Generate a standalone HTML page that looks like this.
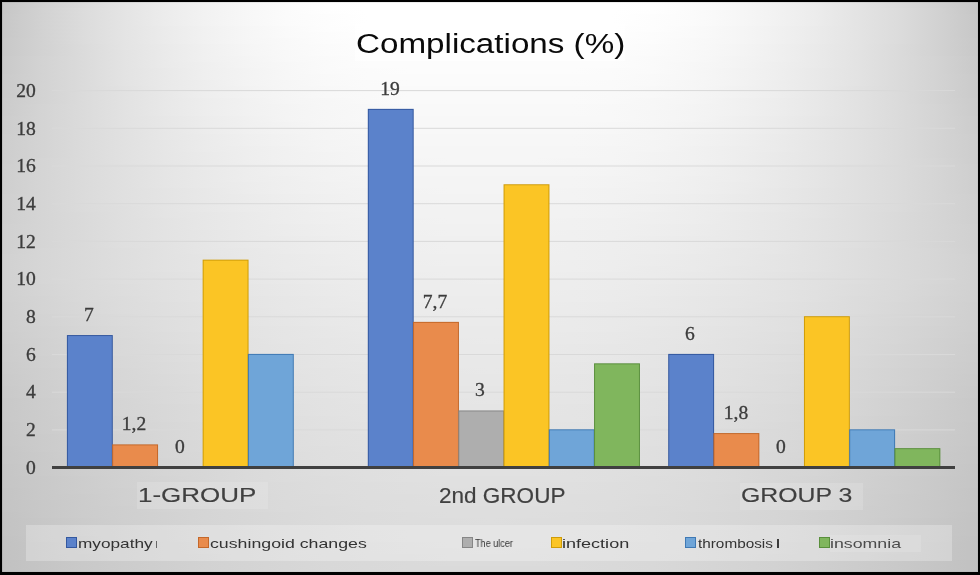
<!DOCTYPE html>
<html><head><meta charset="utf-8"><title>Complications (%)</title>
<style>
html,body{margin:0;padding:0;}
body{width:980px;height:575px;overflow:hidden;background:#000;position:relative;font-family:"Liberation Sans",sans-serif;}
#bg{position:absolute;left:2px;top:2px;width:976px;height:569.5px;overflow:hidden;background:#d8d8d8;}
#bg i{display:block;width:976px;}
#edge{position:absolute;left:2px;top:2px;width:976px;height:569.5px;box-shadow:inset 1px 1px 0 rgba(0,0,0,0.07), inset -1px -1px 0 rgba(0,0,0,0.03);}
.t{position:absolute;white-space:nowrap;line-height:1;transform-origin:0 0;will-change:transform;}
.ser{font-family:"Liberation Serif",serif;color:#3c3c3c;font-size:17.8px;-webkit-text-stroke:0.3px #3c3c3c;}
.patch{position:absolute;}
svg{position:absolute;left:0;top:0;}
</style></head><body>
<div id="bg">
<i style="height:6px;background:linear-gradient(90deg,#c6c6c6,#d1d1d1,#dbdbdb,#e4e4e4,#ececec,#f2f2f2,#f7f7f7,#fbfbfb,#fefefe,#ffffff,#ffffff,#ffffff,#ffffff,#ffffff,#ffffff,#ffffff,#fefefe,#fbfbfb,#f7f7f7,#f2f2f2,#ececec,#e4e4e4,#dbdbdb,#d1d1d1,#c6c6c6)"></i><i style="height:6px;background:linear-gradient(90deg,#c6c6c6,#d2d2d2,#dcdcdc,#e4e4e4,#ececec,#f2f2f2,#f7f7f7,#fbfbfb,#fefefe,#ffffff,#ffffff,#ffffff,#ffffff,#ffffff,#ffffff,#ffffff,#fefefe,#fbfbfb,#f7f7f7,#f2f2f2,#ececec,#e4e4e4,#dcdcdc,#d2d2d2,#c6c6c6)"></i><i style="height:6px;background:linear-gradient(90deg,#c7c7c7,#d2d2d2,#dcdcdc,#e4e4e4,#ececec,#f2f2f2,#f7f7f7,#fbfbfb,#fdfdfd,#ffffff,#ffffff,#ffffff,#ffffff,#ffffff,#ffffff,#ffffff,#fdfdfd,#fbfbfb,#f7f7f7,#f2f2f2,#ececec,#e4e4e4,#dcdcdc,#d2d2d2,#c7c7c7)"></i><i style="height:6px;background:linear-gradient(90deg,#c7c7c7,#d2d2d2,#dcdcdc,#e4e4e4,#ececec,#f2f2f2,#f7f7f7,#fbfbfb,#fdfdfd,#ffffff,#ffffff,#ffffff,#ffffff,#ffffff,#ffffff,#ffffff,#fdfdfd,#fbfbfb,#f7f7f7,#f2f2f2,#ececec,#e4e4e4,#dcdcdc,#d2d2d2,#c7c7c7)"></i><i style="height:6px;background:linear-gradient(90deg,#c7c7c7,#d2d2d2,#dcdcdc,#e4e4e4,#ebebeb,#f1f1f1,#f6f6f6,#fafafa,#fdfdfd,#fefefe,#fefefe,#fefefe,#fefefe,#fefefe,#fefefe,#fefefe,#fdfdfd,#fafafa,#f6f6f6,#f1f1f1,#ebebeb,#e4e4e4,#dcdcdc,#d2d2d2,#c7c7c7)"></i><i style="height:6px;background:linear-gradient(90deg,#c7c7c7,#d2d2d2,#dcdcdc,#e4e4e4,#ebebeb,#f1f1f1,#f6f6f6,#fafafa,#fcfcfc,#fefefe,#fefefe,#fefefe,#fefefe,#fefefe,#fefefe,#fefefe,#fcfcfc,#fafafa,#f6f6f6,#f1f1f1,#ebebeb,#e4e4e4,#dcdcdc,#d2d2d2,#c7c7c7)"></i><i style="height:6px;background:linear-gradient(90deg,#c8c8c8,#d2d2d2,#dcdcdc,#e4e4e4,#ebebeb,#f1f1f1,#f6f6f6,#f9f9f9,#fcfcfc,#fdfdfd,#fefefe,#fefefe,#fefefe,#fefefe,#fefefe,#fdfdfd,#fcfcfc,#f9f9f9,#f6f6f6,#f1f1f1,#ebebeb,#e4e4e4,#dcdcdc,#d2d2d2,#c8c8c8)"></i><i style="height:6px;background:linear-gradient(90deg,#c8c8c8,#d2d2d2,#dbdbdb,#e4e4e4,#eaeaea,#f0f0f0,#f5f5f5,#f9f9f9,#fbfbfb,#fdfdfd,#fdfdfd,#fdfdfd,#fdfdfd,#fdfdfd,#fdfdfd,#fdfdfd,#fbfbfb,#f9f9f9,#f5f5f5,#f0f0f0,#eaeaea,#e4e4e4,#dbdbdb,#d2d2d2,#c8c8c8)"></i><i style="height:6px;background:linear-gradient(90deg,#c8c8c8,#d2d2d2,#dbdbdb,#e3e3e3,#eaeaea,#f0f0f0,#f5f5f5,#f8f8f8,#fbfbfb,#fcfcfc,#fdfdfd,#fdfdfd,#fdfdfd,#fdfdfd,#fdfdfd,#fcfcfc,#fbfbfb,#f8f8f8,#f5f5f5,#f0f0f0,#eaeaea,#e3e3e3,#dbdbdb,#d2d2d2,#c8c8c8)"></i><i style="height:6px;background:linear-gradient(90deg,#c9c9c9,#d3d3d3,#dbdbdb,#e3e3e3,#eaeaea,#f0f0f0,#f4f4f4,#f8f8f8,#fafafa,#fcfcfc,#fcfcfc,#fcfcfc,#fcfcfc,#fcfcfc,#fcfcfc,#fcfcfc,#fafafa,#f8f8f8,#f4f4f4,#f0f0f0,#eaeaea,#e3e3e3,#dbdbdb,#d3d3d3,#c9c9c9)"></i><i style="height:6px;background:linear-gradient(90deg,#c9c9c9,#d3d3d3,#dbdbdb,#e3e3e3,#eaeaea,#efefef,#f4f4f4,#f7f7f7,#fafafa,#fcfcfc,#fcfcfc,#fcfcfc,#fcfcfc,#fcfcfc,#fcfcfc,#fcfcfc,#fafafa,#f7f7f7,#f4f4f4,#efefef,#eaeaea,#e3e3e3,#dbdbdb,#d3d3d3,#c9c9c9)"></i><i style="height:6px;background:linear-gradient(90deg,#c9c9c9,#d3d3d3,#dbdbdb,#e3e3e3,#e9e9e9,#efefef,#f3f3f3,#f7f7f7,#fafafa,#fbfbfb,#fcfcfc,#fcfcfc,#fcfcfc,#fcfcfc,#fcfcfc,#fbfbfb,#fafafa,#f7f7f7,#f3f3f3,#efefef,#e9e9e9,#e3e3e3,#dbdbdb,#d3d3d3,#c9c9c9)"></i><i style="height:6px;background:linear-gradient(90deg,#cacaca,#d3d3d3,#dbdbdb,#e3e3e3,#e9e9e9,#efefef,#f3f3f3,#f7f7f7,#f9f9f9,#fbfbfb,#fbfbfb,#fbfbfb,#fbfbfb,#fbfbfb,#fbfbfb,#fbfbfb,#f9f9f9,#f7f7f7,#f3f3f3,#efefef,#e9e9e9,#e3e3e3,#dbdbdb,#d3d3d3,#cacaca)"></i><i style="height:6px;background:linear-gradient(90deg,#cacaca,#d3d3d3,#dbdbdb,#e3e3e3,#e9e9e9,#eeeeee,#f3f3f3,#f6f6f6,#f9f9f9,#fafafa,#fbfbfb,#fbfbfb,#fbfbfb,#fbfbfb,#fbfbfb,#fafafa,#f9f9f9,#f6f6f6,#f3f3f3,#eeeeee,#e9e9e9,#e3e3e3,#dbdbdb,#d3d3d3,#cacaca)"></i><i style="height:6px;background:linear-gradient(90deg,#cacaca,#d3d3d3,#dbdbdb,#e2e2e2,#e9e9e9,#eeeeee,#f2f2f2,#f6f6f6,#f8f8f8,#fafafa,#fafafa,#fafafa,#fafafa,#fafafa,#fafafa,#fafafa,#f8f8f8,#f6f6f6,#f2f2f2,#eeeeee,#e9e9e9,#e2e2e2,#dbdbdb,#d3d3d3,#cacaca)"></i><i style="height:6px;background:linear-gradient(90deg,#cacaca,#d3d3d3,#dbdbdb,#e2e2e2,#e8e8e8,#eeeeee,#f2f2f2,#f5f5f5,#f8f8f8,#f9f9f9,#fafafa,#fafafa,#fafafa,#fafafa,#fafafa,#f9f9f9,#f8f8f8,#f5f5f5,#f2f2f2,#eeeeee,#e8e8e8,#e2e2e2,#dbdbdb,#d3d3d3,#cacaca)"></i><i style="height:6px;background:linear-gradient(90deg,#cbcbcb,#d3d3d3,#dbdbdb,#e2e2e2,#e8e8e8,#ededed,#f1f1f1,#f5f5f5,#f7f7f7,#f9f9f9,#fafafa,#fafafa,#fafafa,#fafafa,#fafafa,#f9f9f9,#f7f7f7,#f5f5f5,#f1f1f1,#ededed,#e8e8e8,#e2e2e2,#dbdbdb,#d3d3d3,#cbcbcb)"></i><i style="height:6px;background:linear-gradient(90deg,#cbcbcb,#d4d4d4,#dbdbdb,#e2e2e2,#e8e8e8,#ededed,#f1f1f1,#f4f4f4,#f7f7f7,#f8f8f8,#f9f9f9,#f9f9f9,#f9f9f9,#f9f9f9,#f9f9f9,#f8f8f8,#f7f7f7,#f4f4f4,#f1f1f1,#ededed,#e8e8e8,#e2e2e2,#dbdbdb,#d4d4d4,#cbcbcb)"></i><i style="height:6px;background:linear-gradient(90deg,#cbcbcb,#d4d4d4,#dbdbdb,#e2e2e2,#e8e8e8,#ededed,#f1f1f1,#f4f4f4,#f6f6f6,#f8f8f8,#f9f9f9,#f9f9f9,#f9f9f9,#f9f9f9,#f9f9f9,#f8f8f8,#f6f6f6,#f4f4f4,#f1f1f1,#ededed,#e8e8e8,#e2e2e2,#dbdbdb,#d4d4d4,#cbcbcb)"></i><i style="height:6px;background:linear-gradient(90deg,#cccccc,#d4d4d4,#dbdbdb,#e2e2e2,#e7e7e7,#ececec,#f0f0f0,#f4f4f4,#f6f6f6,#f8f8f8,#f8f8f8,#f8f8f8,#f8f8f8,#f8f8f8,#f8f8f8,#f8f8f8,#f6f6f6,#f4f4f4,#f0f0f0,#ececec,#e7e7e7,#e2e2e2,#dbdbdb,#d4d4d4,#cccccc)"></i><i style="height:6px;background:linear-gradient(90deg,#cccccc,#d4d4d4,#dbdbdb,#e2e2e2,#e7e7e7,#ececec,#f0f0f0,#f3f3f3,#f6f6f6,#f7f7f7,#f8f8f8,#f8f8f8,#f8f8f8,#f8f8f8,#f8f8f8,#f7f7f7,#f6f6f6,#f3f3f3,#f0f0f0,#ececec,#e7e7e7,#e2e2e2,#dbdbdb,#d4d4d4,#cccccc)"></i><i style="height:6px;background:linear-gradient(90deg,#cccccc,#d4d4d4,#dbdbdb,#e1e1e1,#e7e7e7,#ececec,#f0f0f0,#f3f3f3,#f5f5f5,#f7f7f7,#f8f8f8,#f8f8f8,#f8f8f8,#f8f8f8,#f8f8f8,#f7f7f7,#f5f5f5,#f3f3f3,#f0f0f0,#ececec,#e7e7e7,#e1e1e1,#dbdbdb,#d4d4d4,#cccccc)"></i><i style="height:6px;background:linear-gradient(90deg,#cdcdcd,#d4d4d4,#dbdbdb,#e1e1e1,#e7e7e7,#ebebeb,#efefef,#f2f2f2,#f5f5f5,#f6f6f6,#f7f7f7,#f7f7f7,#f7f7f7,#f7f7f7,#f7f7f7,#f6f6f6,#f5f5f5,#f2f2f2,#efefef,#ebebeb,#e7e7e7,#e1e1e1,#dbdbdb,#d4d4d4,#cdcdcd)"></i><i style="height:6px;background:linear-gradient(90deg,#cdcdcd,#d4d4d4,#dbdbdb,#e1e1e1,#e6e6e6,#ebebeb,#efefef,#f2f2f2,#f4f4f4,#f6f6f6,#f7f7f7,#f7f7f7,#f7f7f7,#f7f7f7,#f7f7f7,#f6f6f6,#f4f4f4,#f2f2f2,#efefef,#ebebeb,#e6e6e6,#e1e1e1,#dbdbdb,#d4d4d4,#cdcdcd)"></i><i style="height:6px;background:linear-gradient(90deg,#cdcdcd,#d4d4d4,#dbdbdb,#e1e1e1,#e6e6e6,#ebebeb,#eeeeee,#f1f1f1,#f4f4f4,#f5f5f5,#f6f6f6,#f6f6f6,#f6f6f6,#f6f6f6,#f6f6f6,#f5f5f5,#f4f4f4,#f1f1f1,#eeeeee,#ebebeb,#e6e6e6,#e1e1e1,#dbdbdb,#d4d4d4,#cdcdcd)"></i><i style="height:6px;background:linear-gradient(90deg,#cdcdcd,#d4d4d4,#dbdbdb,#e1e1e1,#e6e6e6,#eaeaea,#eeeeee,#f1f1f1,#f3f3f3,#f5f5f5,#f6f6f6,#f6f6f6,#f6f6f6,#f6f6f6,#f6f6f6,#f5f5f5,#f3f3f3,#f1f1f1,#eeeeee,#eaeaea,#e6e6e6,#e1e1e1,#dbdbdb,#d4d4d4,#cdcdcd)"></i><i style="height:6px;background:linear-gradient(90deg,#cdcdcd,#d5d5d5,#dbdbdb,#e1e1e1,#e6e6e6,#eaeaea,#eeeeee,#f1f1f1,#f3f3f3,#f5f5f5,#f5f5f5,#f6f6f6,#f6f6f6,#f6f6f6,#f5f5f5,#f5f5f5,#f3f3f3,#f1f1f1,#eeeeee,#eaeaea,#e6e6e6,#e1e1e1,#dbdbdb,#d5d5d5,#cdcdcd)"></i><i style="height:6px;background:linear-gradient(90deg,#cecece,#d5d5d5,#dbdbdb,#e0e0e0,#e5e5e5,#eaeaea,#ededed,#f0f0f0,#f2f2f2,#f4f4f4,#f5f5f5,#f5f5f5,#f5f5f5,#f5f5f5,#f5f5f5,#f4f4f4,#f2f2f2,#f0f0f0,#ededed,#eaeaea,#e5e5e5,#e0e0e0,#dbdbdb,#d5d5d5,#cecece)"></i><i style="height:6px;background:linear-gradient(90deg,#cecece,#d5d5d5,#dbdbdb,#e0e0e0,#e5e5e5,#e9e9e9,#ededed,#f0f0f0,#f2f2f2,#f4f4f4,#f5f5f5,#f5f5f5,#f5f5f5,#f5f5f5,#f5f5f5,#f4f4f4,#f2f2f2,#f0f0f0,#ededed,#e9e9e9,#e5e5e5,#e0e0e0,#dbdbdb,#d5d5d5,#cecece)"></i><i style="height:6px;background:linear-gradient(90deg,#cecece,#d5d5d5,#dbdbdb,#e0e0e0,#e5e5e5,#e9e9e9,#ededed,#efefef,#f2f2f2,#f3f3f3,#f4f4f4,#f4f4f4,#f4f4f4,#f4f4f4,#f4f4f4,#f3f3f3,#f2f2f2,#efefef,#ededed,#e9e9e9,#e5e5e5,#e0e0e0,#dbdbdb,#d5d5d5,#cecece)"></i><i style="height:6px;background:linear-gradient(90deg,#cecece,#d5d5d5,#dbdbdb,#e0e0e0,#e5e5e5,#e9e9e9,#ececec,#efefef,#f1f1f1,#f3f3f3,#f4f4f4,#f4f4f4,#f4f4f4,#f4f4f4,#f4f4f4,#f3f3f3,#f1f1f1,#efefef,#ececec,#e9e9e9,#e5e5e5,#e0e0e0,#dbdbdb,#d5d5d5,#cecece)"></i><i style="height:6px;background:linear-gradient(90deg,#cecece,#d5d5d5,#dbdbdb,#e0e0e0,#e4e4e4,#e8e8e8,#ececec,#efefef,#f1f1f1,#f2f2f2,#f3f3f3,#f4f4f4,#f4f4f4,#f4f4f4,#f3f3f3,#f2f2f2,#f1f1f1,#efefef,#ececec,#e8e8e8,#e4e4e4,#e0e0e0,#dbdbdb,#d5d5d5,#cecece)"></i><i style="height:6px;background:linear-gradient(90deg,#cfcfcf,#d5d5d5,#dbdbdb,#e0e0e0,#e4e4e4,#e8e8e8,#ebebeb,#eeeeee,#f0f0f0,#f2f2f2,#f3f3f3,#f3f3f3,#f3f3f3,#f3f3f3,#f3f3f3,#f2f2f2,#f0f0f0,#eeeeee,#ebebeb,#e8e8e8,#e4e4e4,#e0e0e0,#dbdbdb,#d5d5d5,#cfcfcf)"></i><i style="height:6px;background:linear-gradient(90deg,#cfcfcf,#d5d5d5,#dbdbdb,#e0e0e0,#e4e4e4,#e8e8e8,#ebebeb,#eeeeee,#f0f0f0,#f1f1f1,#f2f2f2,#f3f3f3,#f3f3f3,#f3f3f3,#f2f2f2,#f1f1f1,#f0f0f0,#eeeeee,#ebebeb,#e8e8e8,#e4e4e4,#e0e0e0,#dbdbdb,#d5d5d5,#cfcfcf)"></i><i style="height:6px;background:linear-gradient(90deg,#cfcfcf,#d5d5d5,#dbdbdb,#dfdfdf,#e4e4e4,#e8e8e8,#ebebeb,#ededed,#f0f0f0,#f1f1f1,#f2f2f2,#f2f2f2,#f2f2f2,#f2f2f2,#f2f2f2,#f1f1f1,#f0f0f0,#ededed,#ebebeb,#e8e8e8,#e4e4e4,#dfdfdf,#dbdbdb,#d5d5d5,#cfcfcf)"></i><i style="height:6px;background:linear-gradient(90deg,#cfcfcf,#d5d5d5,#dadada,#dfdfdf,#e4e4e4,#e7e7e7,#eaeaea,#ededed,#efefef,#f1f1f1,#f2f2f2,#f2f2f2,#f2f2f2,#f2f2f2,#f2f2f2,#f1f1f1,#efefef,#ededed,#eaeaea,#e7e7e7,#e4e4e4,#dfdfdf,#dadada,#d5d5d5,#cfcfcf)"></i><i style="height:6px;background:linear-gradient(90deg,#cfcfcf,#d5d5d5,#dadada,#dfdfdf,#e3e3e3,#e7e7e7,#eaeaea,#ededed,#efefef,#f0f0f0,#f1f1f1,#f2f2f2,#f2f2f2,#f2f2f2,#f1f1f1,#f0f0f0,#efefef,#ededed,#eaeaea,#e7e7e7,#e3e3e3,#dfdfdf,#dadada,#d5d5d5,#cfcfcf)"></i><i style="height:6px;background:linear-gradient(90deg,#d0d0d0,#d5d5d5,#dadada,#dfdfdf,#e3e3e3,#e7e7e7,#eaeaea,#ececec,#eeeeee,#f0f0f0,#f1f1f1,#f1f1f1,#f1f1f1,#f1f1f1,#f1f1f1,#f0f0f0,#eeeeee,#ececec,#eaeaea,#e7e7e7,#e3e3e3,#dfdfdf,#dadada,#d5d5d5,#d0d0d0)"></i><i style="height:6px;background:linear-gradient(90deg,#d0d0d0,#d5d5d5,#dadada,#dfdfdf,#e3e3e3,#e6e6e6,#e9e9e9,#ececec,#eeeeee,#efefef,#f0f0f0,#f1f1f1,#f1f1f1,#f1f1f1,#f0f0f0,#efefef,#eeeeee,#ececec,#e9e9e9,#e6e6e6,#e3e3e3,#dfdfdf,#dadada,#d5d5d5,#d0d0d0)"></i><i style="height:6px;background:linear-gradient(90deg,#d0d0d0,#d5d5d5,#dadada,#dfdfdf,#e3e3e3,#e6e6e6,#e9e9e9,#ebebeb,#ededed,#efefef,#f0f0f0,#f0f0f0,#f0f0f0,#f0f0f0,#f0f0f0,#efefef,#ededed,#ebebeb,#e9e9e9,#e6e6e6,#e3e3e3,#dfdfdf,#dadada,#d5d5d5,#d0d0d0)"></i><i style="height:6px;background:linear-gradient(90deg,#d0d0d0,#d5d5d5,#dadada,#dfdfdf,#e2e2e2,#e6e6e6,#e9e9e9,#ebebeb,#ededed,#eeeeee,#efefef,#f0f0f0,#f0f0f0,#f0f0f0,#efefef,#eeeeee,#ededed,#ebebeb,#e9e9e9,#e6e6e6,#e2e2e2,#dfdfdf,#dadada,#d5d5d5,#d0d0d0)"></i><i style="height:6px;background:linear-gradient(90deg,#d0d0d0,#d6d6d6,#dadada,#dedede,#e2e2e2,#e6e6e6,#e8e8e8,#ebebeb,#ededed,#eeeeee,#efefef,#f0f0f0,#f0f0f0,#f0f0f0,#efefef,#eeeeee,#ededed,#ebebeb,#e8e8e8,#e6e6e6,#e2e2e2,#dedede,#dadada,#d6d6d6,#d0d0d0)"></i><i style="height:6px;background:linear-gradient(90deg,#d1d1d1,#d6d6d6,#dadada,#dedede,#e2e2e2,#e5e5e5,#e8e8e8,#eaeaea,#ececec,#eeeeee,#efefef,#efefef,#efefef,#efefef,#efefef,#eeeeee,#ececec,#eaeaea,#e8e8e8,#e5e5e5,#e2e2e2,#dedede,#dadada,#d6d6d6,#d1d1d1)"></i><i style="height:6px;background:linear-gradient(90deg,#d1d1d1,#d6d6d6,#dadada,#dedede,#e2e2e2,#e5e5e5,#e8e8e8,#eaeaea,#ececec,#ededed,#eeeeee,#efefef,#efefef,#efefef,#eeeeee,#ededed,#ececec,#eaeaea,#e8e8e8,#e5e5e5,#e2e2e2,#dedede,#dadada,#d6d6d6,#d1d1d1)"></i><i style="height:6px;background:linear-gradient(90deg,#d1d1d1,#d6d6d6,#dadada,#dedede,#e2e2e2,#e5e5e5,#e7e7e7,#eaeaea,#ebebeb,#ededed,#eeeeee,#eeeeee,#eeeeee,#eeeeee,#eeeeee,#ededed,#ebebeb,#eaeaea,#e7e7e7,#e5e5e5,#e2e2e2,#dedede,#dadada,#d6d6d6,#d1d1d1)"></i><i style="height:6px;background:linear-gradient(90deg,#d1d1d1,#d6d6d6,#dadada,#dedede,#e1e1e1,#e4e4e4,#e7e7e7,#e9e9e9,#ebebeb,#ececec,#ededed,#eeeeee,#eeeeee,#eeeeee,#ededed,#ececec,#ebebeb,#e9e9e9,#e7e7e7,#e4e4e4,#e1e1e1,#dedede,#dadada,#d6d6d6,#d1d1d1)"></i><i style="height:6px;background:linear-gradient(90deg,#d1d1d1,#d6d6d6,#dadada,#dedede,#e1e1e1,#e4e4e4,#e7e7e7,#e9e9e9,#ebebeb,#ececec,#ededed,#ededed,#eeeeee,#ededed,#ededed,#ececec,#ebebeb,#e9e9e9,#e7e7e7,#e4e4e4,#e1e1e1,#dedede,#dadada,#d6d6d6,#d1d1d1)"></i><i style="height:6px;background:linear-gradient(90deg,#d1d1d1,#d5d5d5,#dadada,#dddddd,#e1e1e1,#e4e4e4,#e6e6e6,#e8e8e8,#eaeaea,#ececec,#ededed,#ededed,#ededed,#ededed,#ededed,#ececec,#eaeaea,#e8e8e8,#e6e6e6,#e4e4e4,#e1e1e1,#dddddd,#dadada,#d5d5d5,#d1d1d1)"></i><i style="height:6px;background:linear-gradient(90deg,#d0d0d0,#d5d5d5,#d9d9d9,#dddddd,#e0e0e0,#e3e3e3,#e6e6e6,#e8e8e8,#eaeaea,#ebebeb,#ececec,#ededed,#ededed,#ededed,#ececec,#ebebeb,#eaeaea,#e8e8e8,#e6e6e6,#e3e3e3,#e0e0e0,#dddddd,#d9d9d9,#d5d5d5,#d0d0d0)"></i><i style="height:6px;background:linear-gradient(90deg,#d0d0d0,#d4d4d4,#d9d9d9,#dcdcdc,#e0e0e0,#e3e3e3,#e5e5e5,#e7e7e7,#e9e9e9,#ebebeb,#ececec,#ececec,#ececec,#ececec,#ececec,#ebebeb,#e9e9e9,#e7e7e7,#e5e5e5,#e3e3e3,#e0e0e0,#dcdcdc,#d9d9d9,#d4d4d4,#d0d0d0)"></i><i style="height:6px;background:linear-gradient(90deg,#cfcfcf,#d4d4d4,#d8d8d8,#dcdcdc,#dfdfdf,#e2e2e2,#e5e5e5,#e7e7e7,#e9e9e9,#eaeaea,#ebebeb,#ececec,#ececec,#ececec,#ebebeb,#eaeaea,#e9e9e9,#e7e7e7,#e5e5e5,#e2e2e2,#dfdfdf,#dcdcdc,#d8d8d8,#d4d4d4,#cfcfcf)"></i><i style="height:6px;background:linear-gradient(90deg,#cfcfcf,#d4d4d4,#d8d8d8,#dcdcdc,#dfdfdf,#e2e2e2,#e4e4e4,#e7e7e7,#e8e8e8,#eaeaea,#ebebeb,#ebebeb,#ececec,#ebebeb,#ebebeb,#eaeaea,#e8e8e8,#e7e7e7,#e4e4e4,#e2e2e2,#dfdfdf,#dcdcdc,#d8d8d8,#d4d4d4,#cfcfcf)"></i><i style="height:6px;background:linear-gradient(90deg,#cfcfcf,#d3d3d3,#d7d7d7,#dbdbdb,#dfdfdf,#e1e1e1,#e4e4e4,#e6e6e6,#e8e8e8,#e9e9e9,#eaeaea,#ebebeb,#ebebeb,#ebebeb,#eaeaea,#e9e9e9,#e8e8e8,#e6e6e6,#e4e4e4,#e1e1e1,#dfdfdf,#dbdbdb,#d7d7d7,#d3d3d3,#cfcfcf)"></i><i style="height:6px;background:linear-gradient(90deg,#cecece,#d3d3d3,#d7d7d7,#dbdbdb,#dedede,#e1e1e1,#e4e4e4,#e6e6e6,#e8e8e8,#e9e9e9,#eaeaea,#ebebeb,#ebebeb,#ebebeb,#eaeaea,#e9e9e9,#e8e8e8,#e6e6e6,#e4e4e4,#e1e1e1,#dedede,#dbdbdb,#d7d7d7,#d3d3d3,#cecece)"></i><i style="height:6px;background:linear-gradient(90deg,#cecece,#d2d2d2,#d6d6d6,#dadada,#dedede,#e1e1e1,#e3e3e3,#e5e5e5,#e7e7e7,#e9e9e9,#eaeaea,#eaeaea,#eaeaea,#eaeaea,#eaeaea,#e9e9e9,#e7e7e7,#e5e5e5,#e3e3e3,#e1e1e1,#dedede,#dadada,#d6d6d6,#d2d2d2,#cecece)"></i><i style="height:6px;background:linear-gradient(90deg,#cdcdcd,#d2d2d2,#d6d6d6,#dadada,#dddddd,#e0e0e0,#e3e3e3,#e5e5e5,#e7e7e7,#e8e8e8,#e9e9e9,#eaeaea,#eaeaea,#eaeaea,#e9e9e9,#e8e8e8,#e7e7e7,#e5e5e5,#e3e3e3,#e0e0e0,#dddddd,#dadada,#d6d6d6,#d2d2d2,#cdcdcd)"></i><i style="height:6px;background:linear-gradient(90deg,#cdcdcd,#d1d1d1,#d6d6d6,#d9d9d9,#dddddd,#e0e0e0,#e2e2e2,#e5e5e5,#e6e6e6,#e8e8e8,#e9e9e9,#e9e9e9,#eaeaea,#e9e9e9,#e9e9e9,#e8e8e8,#e6e6e6,#e5e5e5,#e2e2e2,#e0e0e0,#dddddd,#d9d9d9,#d6d6d6,#d1d1d1,#cdcdcd)"></i><i style="height:6px;background:linear-gradient(90deg,#cccccc,#d1d1d1,#d5d5d5,#d9d9d9,#dcdcdc,#dfdfdf,#e2e2e2,#e4e4e4,#e6e6e6,#e7e7e7,#e8e8e8,#e9e9e9,#e9e9e9,#e9e9e9,#e8e8e8,#e7e7e7,#e6e6e6,#e4e4e4,#e2e2e2,#dfdfdf,#dcdcdc,#d9d9d9,#d5d5d5,#d1d1d1,#cccccc)"></i><i style="height:6px;background:linear-gradient(90deg,#cccccc,#d1d1d1,#d5d5d5,#d9d9d9,#dcdcdc,#dfdfdf,#e2e2e2,#e4e4e4,#e6e6e6,#e7e7e7,#e8e8e8,#e9e9e9,#e9e9e9,#e9e9e9,#e8e8e8,#e7e7e7,#e6e6e6,#e4e4e4,#e2e2e2,#dfdfdf,#dcdcdc,#d9d9d9,#d5d5d5,#d1d1d1,#cccccc)"></i><i style="height:6px;background:linear-gradient(90deg,#cccccc,#d0d0d0,#d4d4d4,#d8d8d8,#dcdcdc,#dfdfdf,#e1e1e1,#e3e3e3,#e5e5e5,#e7e7e7,#e8e8e8,#e8e8e8,#e8e8e8,#e8e8e8,#e8e8e8,#e7e7e7,#e5e5e5,#e3e3e3,#e1e1e1,#dfdfdf,#dcdcdc,#d8d8d8,#d4d4d4,#d0d0d0,#cccccc)"></i><i style="height:6px;background:linear-gradient(90deg,#cbcbcb,#d0d0d0,#d4d4d4,#d8d8d8,#dbdbdb,#dedede,#e1e1e1,#e3e3e3,#e5e5e5,#e6e6e6,#e7e7e7,#e8e8e8,#e8e8e8,#e8e8e8,#e7e7e7,#e6e6e6,#e5e5e5,#e3e3e3,#e1e1e1,#dedede,#dbdbdb,#d8d8d8,#d4d4d4,#d0d0d0,#cbcbcb)"></i><i style="height:6px;background:linear-gradient(90deg,#cbcbcb,#cfcfcf,#d3d3d3,#d7d7d7,#dbdbdb,#dedede,#e0e0e0,#e3e3e3,#e4e4e4,#e6e6e6,#e7e7e7,#e7e7e7,#e8e8e8,#e7e7e7,#e7e7e7,#e6e6e6,#e4e4e4,#e3e3e3,#e0e0e0,#dedede,#dbdbdb,#d7d7d7,#d3d3d3,#cfcfcf,#cbcbcb)"></i><i style="height:6px;background:linear-gradient(90deg,#cacaca,#cfcfcf,#d3d3d3,#d7d7d7,#dadada,#dddddd,#e0e0e0,#e2e2e2,#e4e4e4,#e5e5e5,#e6e6e6,#e7e7e7,#e7e7e7,#e7e7e7,#e6e6e6,#e5e5e5,#e4e4e4,#e2e2e2,#e0e0e0,#dddddd,#dadada,#d7d7d7,#d3d3d3,#cfcfcf,#cacaca)"></i><i style="height:6px;background:linear-gradient(90deg,#cacaca,#cecece,#d3d3d3,#d6d6d6,#dadada,#dddddd,#e0e0e0,#e2e2e2,#e4e4e4,#e5e5e5,#e6e6e6,#e7e7e7,#e7e7e7,#e7e7e7,#e6e6e6,#e5e5e5,#e4e4e4,#e2e2e2,#e0e0e0,#dddddd,#dadada,#d6d6d6,#d3d3d3,#cecece,#cacaca)"></i><i style="height:6px;background:linear-gradient(90deg,#c9c9c9,#cecece,#d2d2d2,#d6d6d6,#d9d9d9,#dddddd,#dfdfdf,#e1e1e1,#e3e3e3,#e5e5e5,#e6e6e6,#e6e6e6,#e6e6e6,#e6e6e6,#e6e6e6,#e5e5e5,#e3e3e3,#e1e1e1,#dfdfdf,#dddddd,#d9d9d9,#d6d6d6,#d2d2d2,#cecece,#c9c9c9)"></i><i style="height:6px;background:linear-gradient(90deg,#c9c9c9,#cecece,#d2d2d2,#d6d6d6,#d9d9d9,#dcdcdc,#dfdfdf,#e1e1e1,#e3e3e3,#e4e4e4,#e5e5e5,#e6e6e6,#e6e6e6,#e6e6e6,#e5e5e5,#e4e4e4,#e3e3e3,#e1e1e1,#dfdfdf,#dcdcdc,#d9d9d9,#d6d6d6,#d2d2d2,#cecece,#c9c9c9)"></i><i style="height:6px;background:linear-gradient(90deg,#c8c8c8,#cdcdcd,#d1d1d1,#d5d5d5,#d9d9d9,#dcdcdc,#dedede,#e1e1e1,#e2e2e2,#e4e4e4,#e5e5e5,#e5e5e5,#e6e6e6,#e5e5e5,#e5e5e5,#e4e4e4,#e2e2e2,#e1e1e1,#dedede,#dcdcdc,#d9d9d9,#d5d5d5,#d1d1d1,#cdcdcd,#c8c8c8)"></i><i style="height:6px;background:linear-gradient(90deg,#c8c8c8,#cdcdcd,#d1d1d1,#d5d5d5,#d8d8d8,#dbdbdb,#dedede,#e0e0e0,#e2e2e2,#e3e3e3,#e4e4e4,#e5e5e5,#e5e5e5,#e5e5e5,#e4e4e4,#e3e3e3,#e2e2e2,#e0e0e0,#dedede,#dbdbdb,#d8d8d8,#d5d5d5,#d1d1d1,#cdcdcd,#c8c8c8)"></i><i style="height:6px;background:linear-gradient(90deg,#c8c8c8,#cccccc,#d1d1d1,#d5d5d5,#d8d8d8,#dbdbdb,#dedede,#e0e0e0,#e2e2e2,#e3e3e3,#e4e4e4,#e5e5e5,#e5e5e5,#e5e5e5,#e4e4e4,#e3e3e3,#e2e2e2,#e0e0e0,#dedede,#dbdbdb,#d8d8d8,#d5d5d5,#d1d1d1,#cccccc,#c8c8c8)"></i><i style="height:6px;background:linear-gradient(90deg,#c8c8c8,#cccccc,#d0d0d0,#d4d4d4,#d8d8d8,#dbdbdb,#dddddd,#dfdfdf,#e1e1e1,#e3e3e3,#e4e4e4,#e4e4e4,#e4e4e4,#e4e4e4,#e4e4e4,#e3e3e3,#e1e1e1,#dfdfdf,#dddddd,#dbdbdb,#d8d8d8,#d4d4d4,#d0d0d0,#cccccc,#c8c8c8)"></i><i style="height:6px;background:linear-gradient(90deg,#c7c7c7,#cccccc,#d0d0d0,#d4d4d4,#d7d7d7,#dadada,#dddddd,#dfdfdf,#e1e1e1,#e2e2e2,#e3e3e3,#e4e4e4,#e4e4e4,#e4e4e4,#e3e3e3,#e2e2e2,#e1e1e1,#dfdfdf,#dddddd,#dadada,#d7d7d7,#d4d4d4,#d0d0d0,#cccccc,#c7c7c7)"></i><i style="height:6px;background:linear-gradient(90deg,#c7c7c7,#cccccc,#d0d0d0,#d4d4d4,#d7d7d7,#dadada,#dcdcdc,#dfdfdf,#e0e0e0,#e2e2e2,#e3e3e3,#e3e3e3,#e4e4e4,#e3e3e3,#e3e3e3,#e2e2e2,#e0e0e0,#dfdfdf,#dcdcdc,#dadada,#d7d7d7,#d4d4d4,#d0d0d0,#cccccc,#c7c7c7)"></i><i style="height:6px;background:linear-gradient(90deg,#c7c7c7,#cbcbcb,#cfcfcf,#d3d3d3,#d7d7d7,#dadada,#dcdcdc,#dedede,#e0e0e0,#e1e1e1,#e2e2e2,#e3e3e3,#e3e3e3,#e3e3e3,#e2e2e2,#e1e1e1,#e0e0e0,#dedede,#dcdcdc,#dadada,#d7d7d7,#d3d3d3,#cfcfcf,#cbcbcb,#c7c7c7)"></i><i style="height:6px;background:linear-gradient(90deg,#c7c7c7,#cbcbcb,#cfcfcf,#d3d3d3,#d6d6d6,#d9d9d9,#dcdcdc,#dedede,#e0e0e0,#e1e1e1,#e2e2e2,#e3e3e3,#e3e3e3,#e3e3e3,#e2e2e2,#e1e1e1,#e0e0e0,#dedede,#dcdcdc,#d9d9d9,#d6d6d6,#d3d3d3,#cfcfcf,#cbcbcb,#c7c7c7)"></i><i style="height:6px;background:linear-gradient(90deg,#c6c6c6,#cbcbcb,#cfcfcf,#d3d3d3,#d6d6d6,#d9d9d9,#dbdbdb,#dedede,#dfdfdf,#e1e1e1,#e2e2e2,#e2e2e2,#e2e2e2,#e2e2e2,#e2e2e2,#e1e1e1,#dfdfdf,#dedede,#dbdbdb,#d9d9d9,#d6d6d6,#d3d3d3,#cfcfcf,#cbcbcb,#c6c6c6)"></i><i style="height:6px;background:linear-gradient(90deg,#c6c6c6,#cacaca,#cfcfcf,#d2d2d2,#d6d6d6,#d8d8d8,#dbdbdb,#dddddd,#dfdfdf,#e0e0e0,#e1e1e1,#e2e2e2,#e2e2e2,#e2e2e2,#e1e1e1,#e0e0e0,#dfdfdf,#dddddd,#dbdbdb,#d8d8d8,#d6d6d6,#d2d2d2,#cfcfcf,#cacaca,#c6c6c6)"></i><i style="height:6px;background:linear-gradient(90deg,#c6c6c6,#cacaca,#cecece,#d2d2d2,#d5d5d5,#d8d8d8,#dbdbdb,#dddddd,#dfdfdf,#e0e0e0,#e1e1e1,#e1e1e1,#e2e2e2,#e1e1e1,#e1e1e1,#e0e0e0,#dfdfdf,#dddddd,#dbdbdb,#d8d8d8,#d5d5d5,#d2d2d2,#cecece,#cacaca,#c6c6c6)"></i><i style="height:6px;background:linear-gradient(90deg,#c5c5c5,#cacaca,#cecece,#d2d2d2,#d5d5d5,#d8d8d8,#dadada,#dcdcdc,#dedede,#dfdfdf,#e0e0e0,#e1e1e1,#e1e1e1,#e1e1e1,#e0e0e0,#dfdfdf,#dedede,#dcdcdc,#dadada,#d8d8d8,#d5d5d5,#d2d2d2,#cecece,#cacaca,#c5c5c5)"></i><i style="height:6px;background:linear-gradient(90deg,#c5c5c5,#cacaca,#cecece,#d1d1d1,#d5d5d5,#d7d7d7,#dadada,#dcdcdc,#dedede,#dfdfdf,#e0e0e0,#e1e1e1,#e1e1e1,#e1e1e1,#e0e0e0,#dfdfdf,#dedede,#dcdcdc,#dadada,#d7d7d7,#d5d5d5,#d1d1d1,#cecece,#cacaca,#c5c5c5)"></i><i style="height:6px;background:linear-gradient(90deg,#c5c5c5,#c9c9c9,#cdcdcd,#d1d1d1,#d4d4d4,#d7d7d7,#dadada,#dcdcdc,#dddddd,#dfdfdf,#e0e0e0,#e0e0e0,#e0e0e0,#e0e0e0,#e0e0e0,#dfdfdf,#dddddd,#dcdcdc,#dadada,#d7d7d7,#d4d4d4,#d1d1d1,#cdcdcd,#c9c9c9,#c5c5c5)"></i><i style="height:6px;background:linear-gradient(90deg,#c5c5c5,#c9c9c9,#cdcdcd,#d1d1d1,#d4d4d4,#d7d7d7,#d9d9d9,#dbdbdb,#dddddd,#dedede,#dfdfdf,#e0e0e0,#e0e0e0,#e0e0e0,#dfdfdf,#dedede,#dddddd,#dbdbdb,#d9d9d9,#d7d7d7,#d4d4d4,#d1d1d1,#cdcdcd,#c9c9c9,#c5c5c5)"></i><i style="height:6px;background:linear-gradient(90deg,#c4c4c4,#c9c9c9,#cdcdcd,#d0d0d0,#d4d4d4,#d6d6d6,#d9d9d9,#dbdbdb,#dddddd,#dedede,#dfdfdf,#dfdfdf,#e0e0e0,#dfdfdf,#dfdfdf,#dedede,#dddddd,#dbdbdb,#d9d9d9,#d6d6d6,#d4d4d4,#d0d0d0,#cdcdcd,#c9c9c9,#c4c4c4)"></i><i style="height:6px;background:linear-gradient(90deg,#c4c4c4,#c9c9c9,#cccccc,#d0d0d0,#d3d3d3,#d6d6d6,#d8d8d8,#dbdbdb,#dcdcdc,#dedede,#dedede,#dfdfdf,#dfdfdf,#dfdfdf,#dedede,#dedede,#dcdcdc,#dbdbdb,#d8d8d8,#d6d6d6,#d3d3d3,#d0d0d0,#cccccc,#c9c9c9,#c4c4c4)"></i><i style="height:6px;background:linear-gradient(90deg,#c4c4c4,#c8c8c8,#cccccc,#d0d0d0,#d3d3d3,#d6d6d6,#d8d8d8,#dadada,#dcdcdc,#dddddd,#dedede,#dfdfdf,#dfdfdf,#dfdfdf,#dedede,#dddddd,#dcdcdc,#dadada,#d8d8d8,#d6d6d6,#d3d3d3,#d0d0d0,#cccccc,#c8c8c8,#c4c4c4)"></i><i style="height:6px;background:linear-gradient(90deg,#c4c4c4,#c8c8c8,#cccccc,#cfcfcf,#d3d3d3,#d5d5d5,#d8d8d8,#dadada,#dbdbdb,#dddddd,#dedede,#dedede,#dedede,#dedede,#dedede,#dddddd,#dbdbdb,#dadada,#d8d8d8,#d5d5d5,#d3d3d3,#cfcfcf,#cccccc,#c8c8c8,#c4c4c4)"></i><i style="height:6px;background:linear-gradient(90deg,#c3c3c3,#c8c8c8,#cccccc,#cfcfcf,#d2d2d2,#d5d5d5,#d7d7d7,#d9d9d9,#dbdbdb,#dcdcdc,#dddddd,#dedede,#dedede,#dedede,#dddddd,#dcdcdc,#dbdbdb,#d9d9d9,#d7d7d7,#d5d5d5,#d2d2d2,#cfcfcf,#cccccc,#c8c8c8,#c3c3c3)"></i><i style="height:6px;background:linear-gradient(90deg,#c3c3c3,#c7c7c7,#cbcbcb,#cfcfcf,#d2d2d2,#d5d5d5,#d7d7d7,#d9d9d9,#dbdbdb,#dcdcdc,#dddddd,#dddddd,#dedede,#dddddd,#dddddd,#dcdcdc,#dbdbdb,#d9d9d9,#d7d7d7,#d5d5d5,#d2d2d2,#cfcfcf,#cbcbcb,#c7c7c7,#c3c3c3)"></i><i style="height:6px;background:linear-gradient(90deg,#c3c3c3,#c7c7c7,#cbcbcb,#cecece,#d2d2d2,#d4d4d4,#d7d7d7,#d9d9d9,#dadada,#dcdcdc,#dcdcdc,#dddddd,#dddddd,#dddddd,#dcdcdc,#dcdcdc,#dadada,#d9d9d9,#d7d7d7,#d4d4d4,#d2d2d2,#cecece,#cbcbcb,#c7c7c7,#c3c3c3)"></i><i style="height:6px;background:linear-gradient(90deg,#c3c3c3,#c7c7c7,#cbcbcb,#cecece,#d1d1d1,#d4d4d4,#d6d6d6,#d8d8d8,#dadada,#dbdbdb,#dcdcdc,#dddddd,#dddddd,#dddddd,#dcdcdc,#dbdbdb,#dadada,#d8d8d8,#d6d6d6,#d4d4d4,#d1d1d1,#cecece,#cbcbcb,#c7c7c7,#c3c3c3)"></i><i style="height:6px;background:linear-gradient(90deg,#c2c2c2,#c7c7c7,#cacaca,#cecece,#d1d1d1,#d4d4d4,#d6d6d6,#d8d8d8,#dadada,#dbdbdb,#dcdcdc,#dcdcdc,#dcdcdc,#dcdcdc,#dcdcdc,#dbdbdb,#dadada,#d8d8d8,#d6d6d6,#d4d4d4,#d1d1d1,#cecece,#cacaca,#c7c7c7,#c2c2c2)"></i><i style="height:6px;background:linear-gradient(90deg,#c2c2c2,#c6c6c6,#cacaca,#cdcdcd,#d0d0d0,#d3d3d3,#d6d6d6,#d8d8d8,#d9d9d9,#dadada,#dbdbdb,#dcdcdc,#dcdcdc,#dcdcdc,#dbdbdb,#dadada,#d9d9d9,#d8d8d8,#d6d6d6,#d3d3d3,#d0d0d0,#cdcdcd,#cacaca,#c6c6c6,#c2c2c2)"></i><i style="height:6px;background:linear-gradient(90deg,#c2c2c2,#c6c6c6,#cacaca,#cdcdcd,#d0d0d0,#d3d3d3,#d5d5d5,#d7d7d7,#d9d9d9,#dadada,#dbdbdb,#dbdbdb,#dcdcdc,#dbdbdb,#dbdbdb,#dadada,#d9d9d9,#d7d7d7,#d5d5d5,#d3d3d3,#d0d0d0,#cdcdcd,#cacaca,#c6c6c6,#c2c2c2)"></i><i style="height:6px;background:linear-gradient(90deg,#c2c2c2,#c6c6c6,#c9c9c9,#cdcdcd,#d0d0d0,#d2d2d2,#d5d5d5,#d7d7d7,#d8d8d8,#dadada,#dadada,#dbdbdb,#dbdbdb,#dbdbdb,#dadada,#dadada,#d8d8d8,#d7d7d7,#d5d5d5,#d2d2d2,#d0d0d0,#cdcdcd,#c9c9c9,#c6c6c6,#c2c2c2)"></i><i style="height:6px;background:linear-gradient(90deg,#c1c1c1,#c5c5c5,#c9c9c9,#cccccc,#cfcfcf,#d2d2d2,#d4d4d4,#d6d6d6,#d8d8d8,#d9d9d9,#dadada,#dbdbdb,#dbdbdb,#dbdbdb,#dadada,#d9d9d9,#d8d8d8,#d6d6d6,#d4d4d4,#d2d2d2,#cfcfcf,#cccccc,#c9c9c9,#c5c5c5,#c1c1c1)"></i><i style="height:6px;background:linear-gradient(90deg,#c1c1c1,#c5c5c5,#c9c9c9,#cccccc,#cfcfcf,#d2d2d2,#d4d4d4,#d6d6d6,#d8d8d8,#d9d9d9,#dadada,#dadada,#dadada,#dadada,#dadada,#d9d9d9,#d8d8d8,#d6d6d6,#d4d4d4,#d2d2d2,#cfcfcf,#cccccc,#c9c9c9,#c5c5c5,#c1c1c1)"></i>
</div><div id="edge"></div>
<div class="patch" style="left:26px;top:525px;width:926px;height:36px;background:rgba(255,255,255,0.25);"></div>

<svg width="980" height="575" viewBox="0 0 980 575" shape-rendering="crispEdges">
<rect x="52" y="429.40" width="903" height="1" fill="#d9d9d9" shape-rendering="geometricPrecision"/>
<rect x="52" y="391.70" width="903" height="1" fill="#d9d9d9" shape-rendering="geometricPrecision"/>
<rect x="52" y="354.00" width="903" height="1" fill="#d9d9d9" shape-rendering="geometricPrecision"/>
<rect x="52" y="316.30" width="903" height="1" fill="#d9d9d9" shape-rendering="geometricPrecision"/>
<rect x="52" y="278.60" width="903" height="1" fill="#d9d9d9" shape-rendering="geometricPrecision"/>
<rect x="52" y="240.90" width="903" height="1" fill="#d9d9d9" shape-rendering="geometricPrecision"/>
<rect x="52" y="203.20" width="903" height="1" fill="#d9d9d9" shape-rendering="geometricPrecision"/>
<rect x="52" y="165.50" width="903" height="1" fill="#d9d9d9" shape-rendering="geometricPrecision"/>
<rect x="52" y="127.80" width="903" height="1" fill="#d9d9d9" shape-rendering="geometricPrecision"/>
<rect x="52" y="90.10" width="903" height="1" fill="#d9d9d9" shape-rendering="geometricPrecision"/>
<rect x="66.90" y="335.05" width="45.90" height="130.95" fill="#34589f" shape-rendering="geometricPrecision"/><rect x="67.90" y="336.05" width="43.90" height="129.95" fill="#5b82cb" shape-rendering="geometricPrecision"/>
<rect x="112.15" y="444.38" width="45.90" height="21.62" fill="#c4682a" shape-rendering="geometricPrecision"/><rect x="113.15" y="445.38" width="43.90" height="20.62" fill="#e98b4c" shape-rendering="geometricPrecision"/>
<rect x="202.65" y="259.65" width="45.90" height="206.35" fill="#cf9c08" shape-rendering="geometricPrecision"/><rect x="203.65" y="260.65" width="43.90" height="205.35" fill="#fbc525" shape-rendering="geometricPrecision"/>
<rect x="247.90" y="353.90" width="45.90" height="112.10" fill="#3f79b4" shape-rendering="geometricPrecision"/><rect x="248.90" y="354.90" width="43.90" height="111.10" fill="#6fa5d8" shape-rendering="geometricPrecision"/>
<rect x="367.80" y="108.85" width="45.90" height="357.15" fill="#34589f" shape-rendering="geometricPrecision"/><rect x="368.80" y="109.85" width="43.90" height="356.15" fill="#5b82cb" shape-rendering="geometricPrecision"/>
<rect x="413.05" y="321.86" width="45.90" height="144.14" fill="#c4682a" shape-rendering="geometricPrecision"/><rect x="414.05" y="322.86" width="43.90" height="143.14" fill="#e98b4c" shape-rendering="geometricPrecision"/>
<rect x="458.30" y="410.45" width="45.90" height="55.55" fill="#868686" shape-rendering="geometricPrecision"/><rect x="459.30" y="411.45" width="43.90" height="54.55" fill="#aeaeae" shape-rendering="geometricPrecision"/>
<rect x="503.55" y="184.25" width="45.90" height="281.75" fill="#cf9c08" shape-rendering="geometricPrecision"/><rect x="504.55" y="185.25" width="43.90" height="280.75" fill="#fbc525" shape-rendering="geometricPrecision"/>
<rect x="548.80" y="429.30" width="45.90" height="36.70" fill="#3f79b4" shape-rendering="geometricPrecision"/><rect x="549.80" y="430.30" width="43.90" height="35.70" fill="#6fa5d8" shape-rendering="geometricPrecision"/>
<rect x="594.05" y="363.32" width="45.90" height="102.68" fill="#598f3b" shape-rendering="geometricPrecision"/><rect x="595.05" y="364.32" width="43.90" height="101.68" fill="#80b65d" shape-rendering="geometricPrecision"/>
<rect x="668.20" y="353.90" width="45.90" height="112.10" fill="#34589f" shape-rendering="geometricPrecision"/><rect x="669.20" y="354.90" width="43.90" height="111.10" fill="#5b82cb" shape-rendering="geometricPrecision"/>
<rect x="713.45" y="433.07" width="45.90" height="32.93" fill="#c4682a" shape-rendering="geometricPrecision"/><rect x="714.45" y="434.07" width="43.90" height="31.93" fill="#e98b4c" shape-rendering="geometricPrecision"/>
<rect x="803.95" y="316.20" width="45.90" height="149.80" fill="#cf9c08" shape-rendering="geometricPrecision"/><rect x="804.95" y="317.20" width="43.90" height="148.80" fill="#fbc525" shape-rendering="geometricPrecision"/>
<rect x="849.20" y="429.30" width="45.90" height="36.70" fill="#3f79b4" shape-rendering="geometricPrecision"/><rect x="850.20" y="430.30" width="43.90" height="35.70" fill="#6fa5d8" shape-rendering="geometricPrecision"/>
<rect x="894.45" y="448.15" width="45.90" height="17.85" fill="#598f3b" shape-rendering="geometricPrecision"/><rect x="895.45" y="449.15" width="43.90" height="16.85" fill="#80b65d" shape-rendering="geometricPrecision"/>
<rect x="52" y="466" width="903" height="3" fill="#404040"/>
</svg>
<div class="patch" style="left:355px;top:24px;width:270px;height:37px;background:rgba(255,255,255,0.6);"></div>
<div class="patch" style="left:137px;top:482px;width:131px;height:27px;background:rgba(255,255,255,0.15);"></div>
<div class="patch" style="left:740px;top:482.5px;width:123px;height:27.5px;background:rgba(255,255,255,0.15);"></div>
<div class="t" style="left:355.57px;top:30.5px;font-size:26.8px;color:#0a0a0a;transform:scaleX(1.2382);">Complications (%)</div>
<div class="t" style="left:138.30px;top:484.87px;font-size:20px;-webkit-text-stroke:0.15px #404040;color:#404040;transform:scaleX(1.2989);">1-GROUP</div>
<div class="t" style="left:438.53px;top:484.98px;font-size:22px;-webkit-text-stroke:0.2px #404040;color:#404040;transform:scaleX(1.0237);">2nd GROUP</div>
<div class="t" style="left:740.79px;top:484.12px;font-size:21px;-webkit-text-stroke:0.15px #404040;color:#404040;transform:scaleX(1.1823);">GROUP 3</div>
<div class="t" style="left:77.87px;top:538.05px;font-size:12.7px;color:#333;transform:scaleX(1.3577);">myopathy</div>
<div class="t" style="left:209.53px;top:538.05px;font-size:12.7px;color:#333;transform:scaleX(1.3978);">cushingoid changes</div>
<div class="t" style="left:475.10px;top:538.63px;font-size:10px;color:#383838;transform:scaleX(0.9098);">The ulcer</div>
<div class="t" style="left:562.41px;top:538.05px;font-size:12.7px;color:#333;transform:scaleX(1.4220);">infection</div>
<div class="t" style="left:697.60px;top:537.09px;font-size:13.6px;color:#333;transform:scaleX(1.1263);">thrombosis</div>
<div class="t" style="left:829.73px;top:538.05px;font-size:12.7px;color:#333;transform:scaleX(1.3990);">insomnia</div>
<div class="patch" style="left:830px;top:535px;width:91px;height:17px;background:rgba(255,255,255,0.12);"></div>
<div class="patch" style="left:156.4px;top:540.5px;width:1px;height:7.2px;background:#666;"></div>
<div class="patch" style="left:777.2px;top:539.4px;width:1.8px;height:8.8px;background:#3a3a3a;"></div>
<div class="patch" style="left:66.2px;top:537.2px;width:8.8px;height:8.8px;background:#5b82cb;border:1px solid #34589f;"></div>
<div class="patch" style="left:198.3px;top:537.2px;width:8.8px;height:8.8px;background:#e98b4c;border:1px solid #c4682a;"></div>
<div class="patch" style="left:462px;top:537.2px;width:8.8px;height:8.8px;background:#aeaeae;border:1px solid #868686;"></div>
<div class="patch" style="left:551.2px;top:537.2px;width:8.8px;height:8.8px;background:#fbc525;border:1px solid #cf9c08;"></div>
<div class="patch" style="left:685.3px;top:537.2px;width:8.8px;height:8.8px;background:#6fa5d8;border:1px solid #3f79b4;"></div>
<div class="patch" style="left:819.1px;top:537.2px;width:8.8px;height:8.8px;background:#80b65d;border:1px solid #598f3b;"></div>
<div class="t ser" style="right:944.6px;top:459.89px;transform-origin:100% 83.75%;transform:scale(1.1,1.0);">0</div>
<div class="t ser" style="right:944.6px;top:422.19px;transform-origin:100% 83.75%;transform:scale(1.1,1.0);">2</div>
<div class="t ser" style="right:944.6px;top:384.49px;transform-origin:100% 83.75%;transform:scale(1.1,1.0);">4</div>
<div class="t ser" style="right:944.6px;top:346.79px;transform-origin:100% 83.75%;transform:scale(1.1,1.0);">6</div>
<div class="t ser" style="right:944.6px;top:309.09px;transform-origin:100% 83.75%;transform:scale(1.1,1.0);">8</div>
<div class="t ser" style="right:944.6px;top:271.39px;transform-origin:100% 83.75%;transform:scale(1.1,1.0);">10</div>
<div class="t ser" style="right:944.6px;top:233.69px;transform-origin:100% 83.75%;transform:scale(1.1,1.0);">12</div>
<div class="t ser" style="right:944.6px;top:195.99px;transform-origin:100% 83.75%;transform:scale(1.1,1.0);">14</div>
<div class="t ser" style="right:944.6px;top:158.29px;transform-origin:100% 83.75%;transform:scale(1.1,1.0);">16</div>
<div class="t ser" style="right:944.6px;top:120.59px;transform-origin:100% 83.75%;transform:scale(1.1,1.0);">18</div>
<div class="t ser" style="right:944.6px;top:82.89px;transform-origin:100% 83.75%;transform:scale(1.1,1.0);">20</div>
<div class="t ser" style="left:59.02px;width:60px;text-align:center;top:306.94px;transform-origin:50% 83.75%;transform:scale(1.1,1.0);">7</div>
<div class="t ser" style="left:104.28px;width:60px;text-align:center;top:416.27px;transform-origin:50% 83.75%;transform:scale(1.1,1.0);">1,2</div>
<div class="t ser" style="left:149.53px;width:60px;text-align:center;top:438.89px;transform-origin:50% 83.75%;transform:scale(1.1,1.0);">0</div>
<div class="t ser" style="left:359.93px;width:60px;text-align:center;top:80.74px;transform-origin:50% 83.75%;transform:scale(1.1,1.0);">19</div>
<div class="t ser" style="left:405.18px;width:60px;text-align:center;top:293.75px;transform-origin:50% 83.75%;transform:scale(1.1,1.0);">7,7</div>
<div class="t ser" style="left:450.43px;width:60px;text-align:center;top:382.34px;transform-origin:50% 83.75%;transform:scale(1.1,1.0);">3</div>
<div class="t ser" style="left:660.32px;width:60px;text-align:center;top:325.79px;transform-origin:50% 83.75%;transform:scale(1.1,1.0);">6</div>
<div class="t ser" style="left:705.57px;width:60px;text-align:center;top:404.96px;transform-origin:50% 83.75%;transform:scale(1.1,1.0);">1,8</div>
<div class="t ser" style="left:750.82px;width:60px;text-align:center;top:438.89px;transform-origin:50% 83.75%;transform:scale(1.1,1.0);">0</div>
</body></html>
